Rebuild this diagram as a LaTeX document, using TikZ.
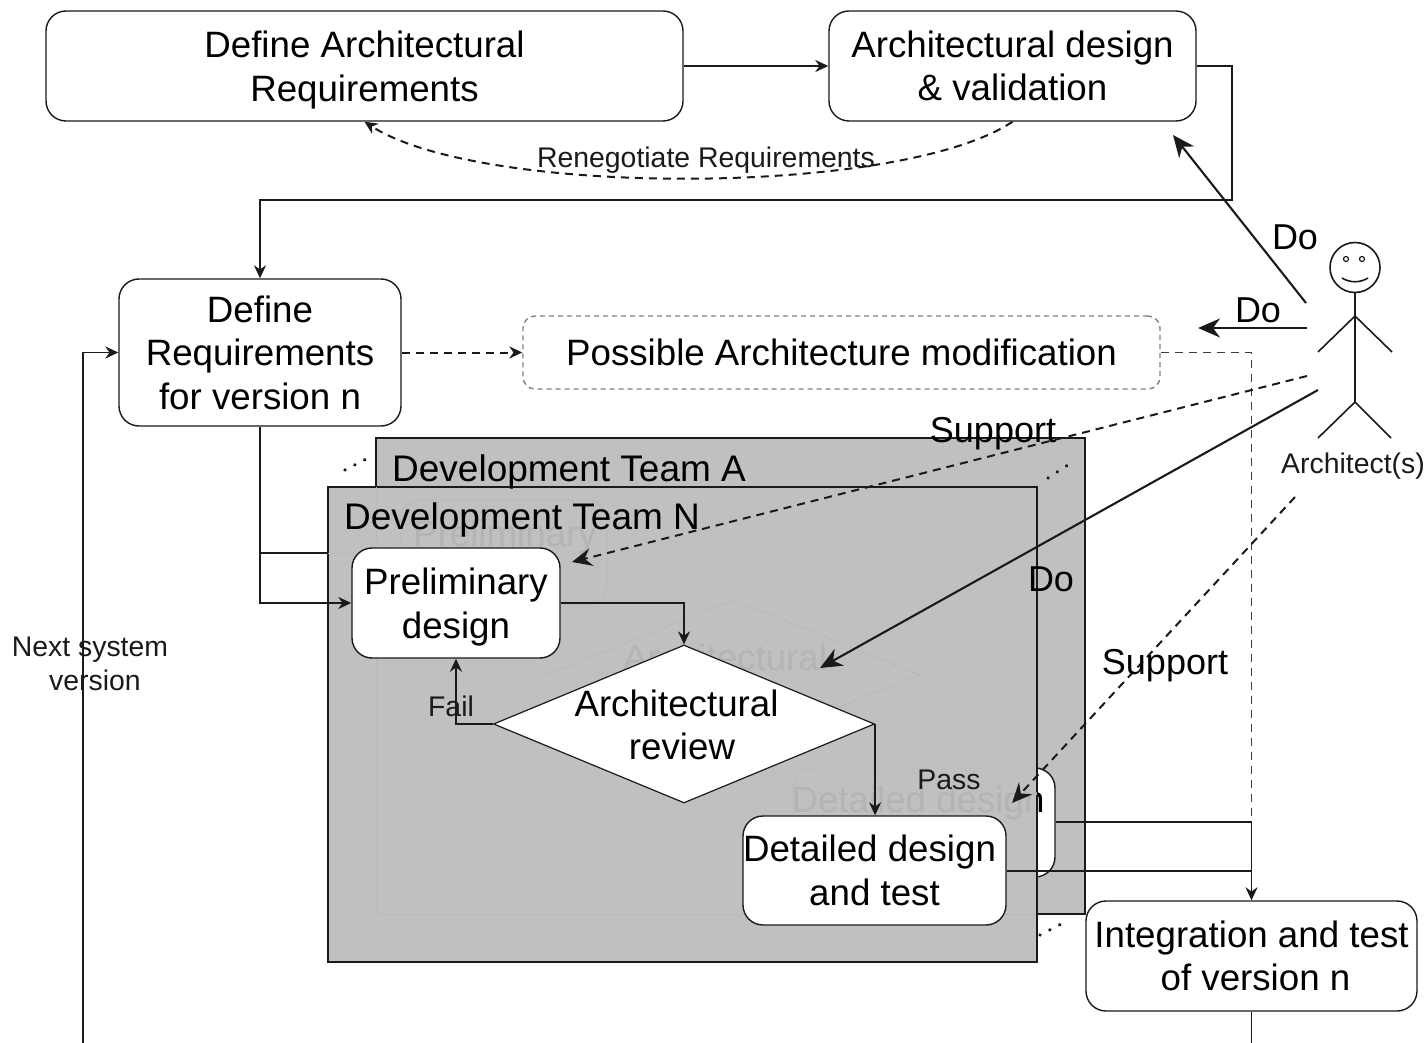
\documentclass[tikz,border=0pt]{standalone}
\usepackage{fontspec}
\setmainfont{Liberation Sans}
\usetikzlibrary{shapes.geometric,arrows.meta}
\definecolor{teamgray}{HTML}{C0C0C0}
\definecolor{ghostline}{HTML}{B4B4B4}
\definecolor{ink}{HTML}{1A1A1A}
\newcommand{\bigtxt}{\fontsize{36.7}{43.5}\selectfont}
\newcommand{\labtxt}{\fontsize{36}{43.5}\selectfont}
\newcommand{\teamtxt}{\fontsize{37}{43.5}\selectfont}
\newcommand{\smalltxt}{\fontsize{28.4}{34}\selectfont}
\tikzset{
  box/.style={draw=ink,line width=1.4pt,fill=white,rounded corners=20pt,align=center,font=\bigtxt,inner sep=0pt,text=black},
  dashbox/.style={box,draw=gray,dash pattern=on 5pt off 4pt,rounded corners=12pt},
  team/.style={draw=ink,line width=1.8pt,fill=teamgray,minimum width=709pt,inner sep=0pt},
  conn/.style={draw=ink,line width=1.8pt,-{Stealth[length=13pt,width=12pt]}},
  plainconn/.style={draw=ink,line width=1.8pt},
  dconn/.style={draw=ink,line width=2pt,dash pattern=on 8pt off 6pt,-{Stealth[length=13pt,width=12pt]}},
  plaindconn/.style={draw=ink!85,line width=1.8pt,dash pattern=on 8pt off 6pt},
  actor/.style={draw=ink,line width=2.1pt,-{Stealth[length=22pt,width=19pt,inset=7pt]}},
  dactor/.style={draw=ink,line width=2pt,dash pattern=on 8pt off 6pt,-{Stealth[length=20pt,width=18pt,inset=7pt]}},
  lab/.style={font=\labtxt,inner sep=0pt,text=black,align=center},
  teamlab/.style={font=\teamtxt,inner sep=0pt,text=black},
  slab/.style={font=\smalltxt,inner sep=0pt,text=ink,align=center},
  ghost/.style={draw=ghostline,line width=1pt,dash pattern=on 2pt off 2pt},
  ghosttxt/.style={font=\bigtxt,inner sep=0pt,text=ghostline},
  fig/.style={draw=ink,line width=1.6pt},
  more/.style={draw=ink,line width=3.6pt,dash pattern=on 0.1pt off 11pt,line cap=round},
}
\begin{document}
\begin{tikzpicture}[x=1pt,y=-1pt]
\useasboundingbox (0,0) rectangle (1428,1043);
% team A with its detail box
\node[team,minimum height=476pt] (teamA) at (730.5,676) {};
\node[box,minimum width=262pt,minimum height=109pt] (adetail) at (924,822.5) {};
\node[font=\bigtxt,inner sep=0pt,text=black] (adetailtxt) at (918,803) {Detailed design};
% team N
\node[team,minimum height=475pt] (teamN) at (682.5,724.5) {};
% ghost of team A seen through team N
\begin{scope}
\clip (328,487) rectangle (1036,962);
\draw[ghost] (376,487) -- (376,914) -- (1037,914);
\draw[ghost] (328,553) -- (400,553);
\draw[ghost,rounded corners=20pt] (400,500) rectangle (607,605);
\node[ghosttxt] (gprelim) at (505,537) {Preliminary};
\draw[ghost] (733,553) -- (733,597);
\draw[ghost] (545,675) -- (733,600) -- (920,675) -- (733,750);
\node[ghosttxt] (garch) at (725,657) {Architectural};
\draw[ghost] (925,675) -- (925,760);
\draw[ghost,rounded corners=20pt] (793,877) -- (793,768) -- (1037,768);
\node[ghosttxt] (gdet) at (918,803) {Detailed design};
\end{scope}
% labels of the teams
\node[teamlab,anchor=west] (nameA) at (392,472) {Development Team A};
\node[teamlab,anchor=west] (nameN) at (344,520) {Development Team N};
% boxes
\node[box,text depth=0pt,minimum width=637pt,minimum height=110pt] (defreq) at (364.5,66) {Define Architectural\\Requirements};
\node[box,minimum width=367pt,minimum height=110pt] (archdes) at (1012.5,66) {Architectural design\\\& validation};
\node[box,minimum width=282pt,minimum height=147pt] (verreq) at (260,352.5) {Define\\Requirements\\for version n};
\node[dashbox,minimum width=637pt,minimum height=73pt] (possible) at (841.5,352.5) {Possible Architecture modification};
\node[box,text depth=0pt,minimum width=208pt,minimum height=110pt] (prelim) at (456,603) {Preliminary\\design};
\node[diamond,draw=ink,line width=1.2pt,fill=white,inner sep=0pt,aspect=2.41,minimum width=381pt,minimum height=158pt] (review) at (684,724) {};
\node[lab,font=\bigtxt] (reviewtxt) at (680,725) {Architectural\kern7pt\\\kern4pt review};
\node[box,minimum width=263pt,minimum height=109pt] (detail) at (874.5,870.5) {Detailed design\kern10pt\\and test};
\node[box,minimum width=331pt,minimum height=110pt] (integ) at (1251.5,956) {Integration and test\\\kern8pt of version n};
% free ends
\coordinate (bottomL) at (83,1043);
\coordinate (bottomR) at (1251.5,1043);
\coordinate (joinA) at (1251.5,871);
% solid connectors
\draw[conn] (defreq.east) -- (archdes.west);
\draw[conn] (archdes.east) -- (1232,66) -- (1232,200) -- (260,200) -- (verreq.north);
\draw[plainconn] (verreq.south) -- (260,553) -- (teamN.west |- 260,553);
\draw[conn] (verreq.south) -- (260,603) -- (prelim.west);
\draw[conn] (prelim.east) -- (review.north |- prelim.east) -- (review.north);
\draw[conn] (review.west) -- (456,724) -- (prelim.south);
\draw[conn] (review.east) -- (review.east |- detail.north);
\draw[plaindconn] (possible.east) -- (1251.5,352.5) -- (1251.5,880);
\draw[conn] (detail.east |- joinA) -- (joinA) -- (integ.north);
\draw[plainconn] (adetail.east |- 0,822) -- (1251.5,822) -- (joinA);
\draw[plainconn] (integ.south) -- (bottomR);
\draw[conn] (bottomL) -- (83,352.5) -- (verreq.west);
% dashed connectors
\draw[dconn] (archdes.south) .. controls (900,197) and (480,197) .. (defreq.south);
\draw[dconn] (verreq.east) -- (possible.west);
% stick figure
\node[circle,fig,fill=white,minimum size=50pt,inner sep=0pt] (head) at (1355,267.5) {};
\node[circle,fig,line width=1.2pt,minimum size=5pt,inner sep=0pt] (eyeL) at (1346,259) {};
\node[circle,fig,line width=1.2pt,minimum size=5pt,inner sep=0pt] (eyeR) at (1362,259) {};
\draw[fig] (1342,278) .. controls (1350,283) and (1360,283) .. (1368,278);
\coordinate (hip) at (1355,402);
\coordinate (neck) at (1355,316);
\draw[fig] (head.south) -- (hip);
\draw[fig] (1318,352) -- (neck) -- (1392,352);
\draw[fig] (1318,438) -- (hip) -- (1391,438);
\node[slab] (archname) at (1353,466) {Architect(s)};
% architect's connectors
\coordinate (a1) at (1306,303);
\coordinate (a2) at (1307,328);
\coordinate (a3) at (1307,376);
\coordinate (a4) at (1318,390);
\coordinate (a5) at (1295,497);
\draw[actor] (a1) -- (1173,135);
\draw[actor] (a2) -- (1198,328);
\draw[dactor] (a3) -- (572,562);
\draw[actor] (a4) -- (820,668);
\draw[dactor] (a5) -- (1012,803);
% labels
\node[slab] (reneg) at (706,160) {Renegotiate Requirements};
\node[lab] (do1) at (1295,237) {Do};
\node[lab] (do2) at (1258,310) {Do};
\node[lab] (sup1) at (993,434) {Support};
\node[lab] (do3) at (1051,579) {Do};
\node[lab] (sup2) at (1165,666) {Support};
\node[slab] (fail) at (451,706) {Fail};
\node[slab] (pass) at (949,780) {Pass};
\node[slab] (next) at (90,664) {Next system\\\kern10pt version};
% ellipses between teams
\draw[more] (345,470) -- (368,458);
\draw[more] (1048,478) -- (1071,463);
\draw[more] (1040,935) -- (1063,923);
\end{tikzpicture}
\end{document}
